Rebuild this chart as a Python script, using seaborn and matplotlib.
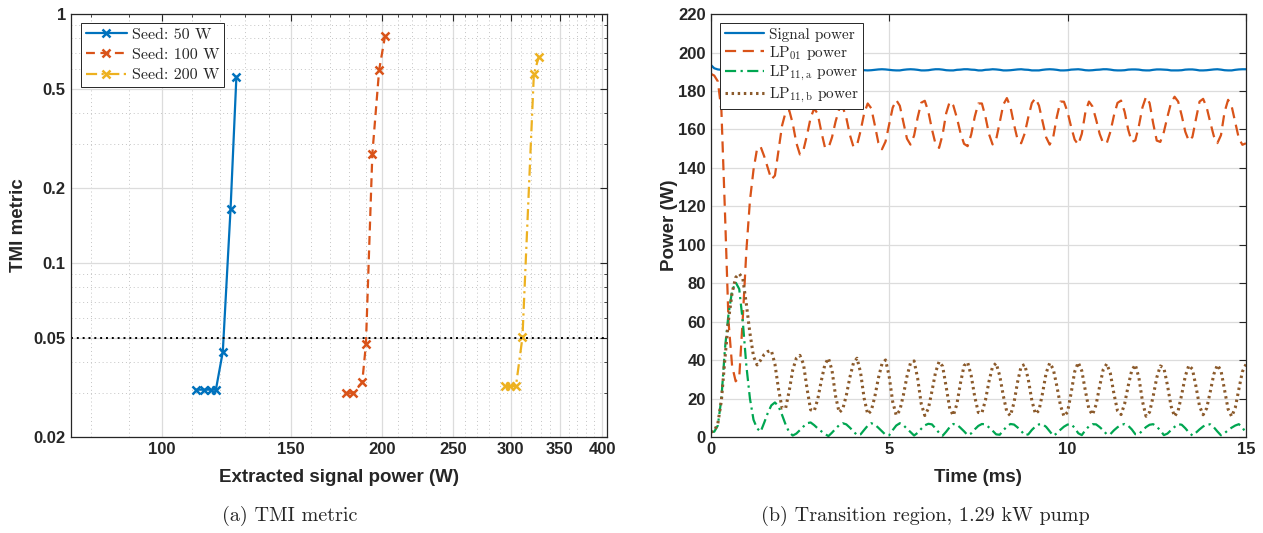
import numpy as np
import matplotlib
matplotlib.use("Agg")
import matplotlib.pyplot as plt
import seaborn as sns
from matplotlib.ticker import FixedLocator, FixedFormatter, NullFormatter
from matplotlib.font_manager import FontProperties

# ---------------- (a) TMI metric vs extracted signal power ----------------
seed50_power = [111.3, 114.3, 116.6, 118.5, 121.1, 124.1, 126.4]
seed50_tmi = [0.031, 0.031, 0.031, 0.031, 0.044, 0.165, 0.56]
seed100_power = [178.6, 182.6, 187.9, 190.1, 194.0, 198.2, 201.9]
seed100_tmi = [0.030, 0.030, 0.0332, 0.0471, 0.275, 0.597, 0.816]
seed200_power = [294.2, 299.1, 305.0, 311.3, 322.7, 327.6]
seed200_tmi = [0.0321, 0.0321, 0.0321, 0.0503, 0.574, 0.670]
tmi_threshold = 0.05

power_ticks = [100, 150, 200, 250, 300, 350, 400]
tmi_ticks = [0.02, 0.05, 0.1, 0.2, 0.5, 1]
tmi_tick_labels = ["0.02", "0.05", "0.1", "0.2", "0.5", "1"]

# ---------------- (b) modal powers in the transition region ----------------
# samples every 0.1 ms from 0 to 15 ms
signal_power = [
    193.6, 191.8, 191.2, 191.0, 191.0, 191.0, 191.0, 191.0, 191.0, 191.0,
    191.0, 191.0, 191.0, 191.0, 191.0, 191.0, 191.0, 191.0, 191.0, 191.0,
    191.0, 191.0, 190.8, 191.0, 191.2, 191.3, 191.3, 191.1, 191.0, 190.8,
    190.8, 191.1, 191.3, 191.3, 191.2, 191.0, 190.8, 190.8, 191.0, 191.1,
    191.3, 191.3, 191.1, 190.8, 190.7, 190.8, 191.0, 191.2, 191.3, 191.2,
    191.0, 190.8, 190.7, 190.7, 191.0, 191.2, 191.3, 191.2, 191.0, 190.7,
    190.7, 190.8, 191.1, 191.3, 191.3, 191.1, 190.8, 190.7, 190.7, 191.0,
    191.1, 191.3, 191.3, 191.1, 191.0, 190.7, 190.7, 191.0, 191.1, 191.3,
    191.2, 191.0, 190.7, 190.7, 190.8, 191.0, 191.2, 191.3, 191.1, 191.0,
    190.7, 190.7, 190.7, 191.0, 191.2, 191.3, 191.2, 191.0, 190.7, 190.7,
    190.8, 191.1, 191.2, 191.3, 191.1, 190.8, 190.7, 190.8, 191.0, 191.1,
    191.3, 191.3, 191.1, 190.8, 190.7, 190.7, 190.8, 191.1, 191.2, 191.2,
    191.1, 190.8, 190.7, 190.7, 191.0, 191.2, 191.2, 191.1, 191.0, 190.7,
    190.7, 190.7, 190.8, 191.1, 191.2, 191.2, 191.0, 190.7, 190.7, 190.8,
    191.0, 191.2, 191.3, 191.1, 190.8, 190.7, 190.7, 191.0, 191.2, 191.3,
    191.3,
]
lp01_power = [
    189, 188, 185, 170, 117, 60, 37, 29, 31, 62,
    97, 123, 139, 150, 151, 146, 140, 134, 136, 149,
    162, 169, 170, 163, 153, 147, 149.3, 157.1, 166, 170.9,
    168.1, 158.8, 150.8, 150.4, 155.9, 164.1, 170.5, 171.7, 166.1, 157.2,
    151, 151.8, 159.2, 168.3, 173.5, 171, 162.2, 153, 149.7, 153.7,
    162.5, 171.3, 175.3, 172.3, 163.8, 155.2, 152.1, 156.8, 166.2, 173.9,
    174.9, 169.2, 160.1, 152.5, 150.4, 157.4, 168.5, 174.5, 172.4, 166,
    158.2, 152.5, 151.3, 157.3, 166.6, 173.5, 173.5, 166.6, 157.5, 152.2,
    154.8, 163.7, 172.9, 176.3, 171.7, 162.6, 154.7, 152.8, 157.9, 166.3,
    173.7, 176.3, 172.4, 164.2, 155.9, 152.1, 156.1, 166.5, 174.5, 174.4,
    169.1, 161.4, 154.7, 152.1, 157.7, 168.9, 174.5, 171.9, 165.2, 157.7,
    152.8, 152.9, 158.7, 167.2, 173.8, 175, 169.2, 159.9, 153.5, 154.3,
    161.9, 171.5, 177, 173.7, 163.2, 154.2, 153.5, 158.7, 166.6, 173.8,
    177, 174.5, 167.2, 158.8, 154, 156.1, 165.5, 174.5, 175.9, 171.4,
    163.7, 156.5, 152.9, 157, 169, 175.4, 172, 163.7, 155.4, 152,
    152.8,
]
lp11a_power = [
    2.6, 2.8, 6, 20, 46, 64, 76, 80.5, 77, 60,
    37, 20, 9, 4.5, 2.8, 7.5, 12.5, 16.5, 18, 16,
    11.5, 6.5, 2.5, 0.8, 1.8, 3.6, 5.5, 7.2, 7.6, 6.2,
    4.5, 3, 1.6, 0.5, 2.3, 4.3, 6.2, 7.2, 6.6, 4.9,
    3, 1, 1.4, 3.7, 5.9, 7.2, 6.5, 4.8, 3, 1.2,
    0.9, 3.6, 6, 7.2, 6.2, 4.3, 2.6, 0.8, 2.2, 4.3,
    6.1, 6.9, 6.6, 4.5, 2.2, 0.7, 2.8, 5.2, 6.8, 6.5,
    4.8, 3, 1, 1.9, 4, 5.8, 6.8, 6.6, 5, 3.3,
    1.4, 1.2, 3.5, 5.5, 6.8, 6.5, 5, 3.2, 1, 1.4,
    3.7, 5.5, 6.6, 6.7, 5.3, 3, 0.7, 1.9, 3.8, 5.4,
    6.5, 6.7, 4.8, 2, 1, 3.6, 5.6, 6.7, 6.6, 5.2,
    3.5, 1.4, 1.5, 3.5, 5.1, 6.3, 6.8, 5.9, 4, 1.5,
    1.5, 3.4, 5.2, 6.4, 6.7, 5.4, 3.5, 1, 1.8, 3.6,
    5.3, 6.7, 6.4, 4.6, 2.4, 0.8, 2.3, 4, 5.5, 6.6,
    6.6, 5.1, 2.9, 0.9, 2, 3.6, 4.9, 6, 6.7, 5,
    2.1,
]
lp11b_power = [
    2.5, 3.2, 7, 19, 41, 61, 75, 83, 85, 82.5,
    69, 54, 42, 37.5, 40, 43, 44.5, 45, 38, 25,
    15, 15, 24, 35, 41, 42.5, 38, 25.2, 14.2, 13.5,
    19.7, 29.3, 37.7, 41, 34.7, 21.3, 12.8, 14.5, 21.6, 31,
    38.5, 41, 33.6, 20.2, 11.9, 13.7, 21.1, 30.7, 38.1, 40.1,
    31.8, 18.4, 11.3, 13.9, 21.8, 31.5, 38.6, 39.6, 30.5, 17.3,
    11.2, 14.8, 23.8, 33.6, 39.2, 36.8, 26, 14.7, 11.2, 17.2,
    28.1, 37.1, 38.9, 32, 20.9, 12.8, 12.5, 19.2, 29, 36.7,
    38.4, 31.9, 21.5, 13, 11.1, 17.9, 28.6, 36.9, 37.7, 30,
    19, 12.1, 13.8, 22.8, 33.3, 38.5, 35.4, 26.6, 16.6, 10.8,
    13, 22.8, 34, 38.8, 34.4, 24.1, 14.5, 11.6, 16.8, 26.4,
    35.1, 38.1, 33.1, 22.6, 13.7, 11.7, 17.3, 26.6, 34.7, 37.6,
    30.9, 18.6, 10.8, 13, 21.2, 30.9, 37, 35.9, 27, 16.2,
    10.7, 13.7, 22.1, 31.7, 37.3, 35.3, 26.3, 16, 11.6, 15,
    23.6, 32.7, 37.5, 34.6, 24.7, 14.5, 10.7, 15.2, 24.8, 34,
    37.8,
]
time_step_ms = 0.1

BLUE = "#0072BD"
ORANGE = "#D95319"
YELLOW = "#EDB120"
GREEN = "#00A651"
BROWN = "#8B5A2B"
AXIS_GREY = "#262626"

sns.set_theme(style="white")
plt.rcParams["font.family"] = ["Liberation Sans", "DejaVu Sans"]
plt.rcParams["font.weight"] = "bold"
plt.rcParams["mathtext.fontset"] = "cm"
plt.rcParams["axes.unicode_minus"] = False

fig = plt.figure(figsize=(12.63, 5.33), dpi=100)
ax1 = fig.add_axes([0.056, 0.180, 0.4244, 0.7936])
ax2 = fig.add_axes([0.5627, 0.180, 0.4238, 0.7936])


def style_axes(ax):
    for sp in ax.spines.values():
        sp.set_color(AXIS_GREY)
        sp.set_linewidth(0.9)
    ax.tick_params(which="both", direction="in", top=True, right=True,
                   color=AXIS_GREY, labelcolor=AXIS_GREY, labelsize=12)
    ax.tick_params(which="major", length=5, width=0.8)
    ax.tick_params(which="minor", length=2.5, width=0.6)


# ---- left panel ----
series = [
    (seed50_power, seed50_tmi, "Seed: 50 W", BLUE, "-"),
    (seed100_power, seed100_tmi, "Seed: 100 W", ORANGE, (0, (4, 2.5))),
    (seed200_power, seed200_tmi, "Seed: 200 W", YELLOW, (0, (5, 2, 1, 2))),
]
for pw, tm, lab, col, ls in series:
    sns.lineplot(x=pw, y=tm, ax=ax1, color=col, linestyle=ls, linewidth=1.6,
                 marker="x", markersize=6, markeredgewidth=1.8,
                 markeredgecolor=col, label=lab, sort=False, errorbar=None)
ax1.axhline(tmi_threshold, color="black", linestyle=(0, (1, 2)), linewidth=1.4)

ax1.set_xscale("log")
ax1.set_yscale("log")
ax1.set_xlim(75, 406)
ax1.set_ylim(0.02, 1)
ax1.xaxis.set_major_locator(FixedLocator(power_ticks))
ax1.xaxis.set_major_formatter(FixedFormatter([str(v) for v in power_ticks]))
ax1.xaxis.set_minor_locator(FixedLocator([v for v in range(80, 400, 10) if v % 50]))
ax1.xaxis.set_minor_formatter(NullFormatter())
ax1.yaxis.set_major_locator(FixedLocator(tmi_ticks))
ax1.yaxis.set_major_formatter(FixedFormatter(tmi_tick_labels))
ax1.yaxis.set_minor_locator(FixedLocator([0.03, 0.04, 0.06, 0.07, 0.08, 0.09,
                                          0.3, 0.4, 0.6, 0.7, 0.8, 0.9]))
ax1.yaxis.set_minor_formatter(NullFormatter())
ax1.grid(which="major", color="#DCDCDC", linewidth=0.9, linestyle="-")
ax1.grid(which="minor", color="#C4C4C4", linewidth=0.7, linestyle=(0, (1, 3)))
ax1.set_axisbelow(True)
style_axes(ax1)
ax1.set_xlabel("Extracted signal power (W)", fontsize=13.5, fontweight="bold",
               color=AXIS_GREY, labelpad=9)
ax1.set_ylabel("TMI metric", fontsize=13.5, fontweight="bold", color=AXIS_GREY,
               labelpad=5)
leg1 = ax1.legend(loc="upper left", bbox_to_anchor=(0.019, 0.979), borderaxespad=0,
                  prop=FontProperties(family="cmr10", size=11.5), frameon=True,
                  fancybox=False, framealpha=1, edgecolor=AXIS_GREY,
                  handlelength=2.6, handletextpad=0.3, labelspacing=0.37,
                  borderpad=0.3)
leg1.get_frame().set_linewidth(0.7)

# ---- right panel ----
time_ms = np.round(np.arange(len(signal_power)) * time_step_ms, 1)
sns.lineplot(x=time_ms, y=signal_power, ax=ax2, color=BLUE, linewidth=1.6,
             label="Signal power")
sns.lineplot(x=time_ms, y=lp01_power, ax=ax2, color=ORANGE, linewidth=1.6,
             linestyle=(0, (5, 3)), label=r"LP$_{01}$ power")
sns.lineplot(x=time_ms, y=lp11a_power, ax=ax2, color=GREEN, linewidth=1.6,
             linestyle=(0, (5, 2, 1, 2)), label=r"LP$_{11,\mathrm{a}}$ power")
sns.lineplot(x=time_ms, y=lp11b_power, ax=ax2, color=BROWN, linewidth=2.2,
             linestyle=(0, (0.8, 1.2)), label=r"LP$_{11,\mathrm{b}}$ power")

ax2.set_xlim(0, 15)
ax2.set_ylim(0, 220)
ax2.set_xticks([0, 5, 10, 15])
ax2.set_yticks(range(0, 221, 20))
ax2.grid(which="major", color="#DCDCDC", linewidth=0.9, linestyle="-")
ax2.set_axisbelow(True)
style_axes(ax2)
ax2.set_xlabel("Time (ms)", fontsize=13.5, fontweight="bold", color=AXIS_GREY,
               labelpad=9)
ax2.set_ylabel("Power (W)", fontsize=13.5, fontweight="bold", color=AXIS_GREY,
               labelpad=0)
leg2 = ax2.legend(loc="upper left", bbox_to_anchor=(0.0174, 0.979), borderaxespad=0,
                  prop=FontProperties(family="cmr10", size=11), frameon=True,
                  fancybox=False, framealpha=1, edgecolor=AXIS_GREY,
                  handlelength=2.6, handletextpad=0.3, labelspacing=0.15,
                  borderpad=0.3)
leg2.get_frame().set_linewidth(0.7)

# ---- sub-captions ----
cap = FontProperties(family="cmr10", size=14.5)
fig.text(0.2296, 0.032, "(a) TMI metric", ha="center", va="center", fontproperties=cap)
fig.text(0.7324, 0.032, "(b) Transition region, 1.29 kW pump", ha="center",
         va="center", fontproperties=cap)

fig.savefig("out.png", dpi=100)
